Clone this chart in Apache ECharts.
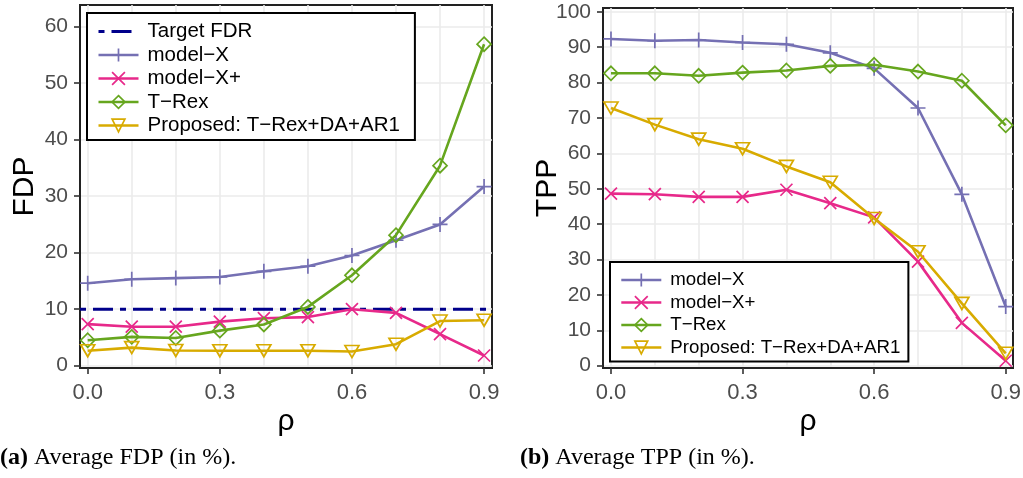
<!DOCTYPE html>
<html>
<head>
<meta charset="utf-8">
<script src="https://cdn.jsdelivr.net/npm/echarts@6/dist/echarts.min.js"></script>
<style>html,body{margin:0;padding:0;background:#fff}#c{width:1023px;height:478px}</style>
</head>
<body>
<div id="c"></div>
<script>
// ---- data ----
const rho = [0.0, 0.1, 0.2, 0.3, 0.4, 0.5, 0.6, 0.7, 0.8, 0.9];
const targetFDR = 10;

const fdpModelX     = [14.6, 15.3, 15.5, 15.7, 16.7, 17.6, 19.5, 22.2, 25.0, 31.7];
const fdpModelXPlus = [7.35, 6.9, 6.9, 7.8, 8.4, 8.6, 10.0, 9.35, 5.6, 1.8];
const fdpTRex       = [4.5, 5.1, 4.9, 6.2, 7.3, 10.4, 16.0, 23.1, 35.4, 56.9];
const fdpProposed   = [2.65, 3.2, 2.7, 2.65, 2.65, 2.65, 2.5, 3.8, 7.9, 8.05];

const tppModelX     = [92.3, 91.8, 92.0, 91.3, 90.8, 88.4, 84.0, 72.8, 48.4, 16.7];
const tppModelXPlus = [48.6, 48.45, 47.7, 47.7, 49.7, 45.9, 41.9, 29.4, 12.1, 1.4];
const tppTRex       = [82.6, 82.6, 81.9, 82.8, 83.4, 84.7, 85.0, 83.1, 80.5, 67.9];
const tppProposed   = [72.8, 68.1, 64.0, 61.3, 56.3, 51.8, 41.6, 32.2, 17.6, 3.5];

const xTickLabels = [0.0, 0.3, 0.6, 0.9];
const xGridValues = [0.0, 0.1, 0.2, 0.3, 0.4, 0.5, 0.6, 0.7, 0.8, 0.9];
const fdpTicks = [0, 10, 20, 30, 40, 50, 60];
const tppTicks = [0, 10, 20, 30, 40, 50, 60, 70, 80, 90, 100];

const names = ['model\u2212X', 'model\u2212X+', 'T\u2212Rex', 'Proposed: T\u2212Rex+DA+AR1'];
const targetName = 'Target FDR';

// ---- style ----
const colors = ['#7570B3', '#E7298A', '#66A61E', '#D8AB00'];
const symbols = [
  'path://M5,0L5,10M0,5L10,5',
  'path://M0,0L10,10M0,10L10,0',
  'path://M5,0L10,5L5,10L0,5Z',
  'path://M0,0L10,0L5,8.66Z'
];
const symSizes = [15, 12, 14, [14, 12]];
const SANS = 'Liberation Sans, Arial, Helvetica, sans-serif';
const SERIF = 'Liberation Serif, Times New Roman, serif';

const xr0 = [-0.0175, 0.918];
const xr1 = [-0.0182, 0.9166];
const yr0 = [-0.41, 63.84];
const yr1 = [-0.65, 101.05];

function pairs(xs, ys) { return xs.map((x, i) => [x, ys[i]]); }

function mkSeries(name, i, vals, gi) {
  return {
    type: 'line', name: name, xAxisIndex: gi * 2, yAxisIndex: gi,
    data: pairs(rho, vals),
    symbol: symbols[i], symbolSize: symSizes[i], showSymbol: true,
    lineStyle: { color: colors[i], width: 2.6 },
    itemStyle: { color: 'rgba(0,0,0,0)', borderColor: colors[i], borderWidth: 1.7 },
    emphasis: { disabled: true }, z: 3 + i
  };
}

const fdpSets = [fdpModelX, fdpModelXPlus, fdpTRex, fdpProposed];
const tppSets = [tppModelX, tppModelXPlus, tppTRex, tppProposed];

const series = [];
series.push({
  type: 'line', name: targetName, xAxisIndex: 0, yAxisIndex: 0,
  data: [[xr0[0], targetFDR], [xr0[1], targetFDR]],
  symbol: 'none', showSymbol: false,
  lineStyle: { color: '#00008B', width: 3, type: [6, 7, 20, 7] },
  itemStyle: { color: 'rgba(0,0,0,0)', borderColor: 'rgba(0,0,0,0)', borderWidth: 0 },
  emphasis: { disabled: true }, z: 2
});
fdpSets.forEach((v, i) => series.push(mkSeries(names[i], i, v, 0)));
tppSets.forEach((v, i) => series.push(mkSeries(names[i], i, v, 1)));

function xAxes(gi, xr) {
  return [
    {
      type: 'value', gridIndex: gi, min: xr[0], max: xr[1], position: 'bottom',
      name: '\u03C1', nameLocation: 'middle', nameGap: 39, nameMoveOverlap: false,
      nameTextStyle: { fontFamily: SANS, fontSize: 30, color: '#000' },
      axisLine: { show: true, onZero: false, lineStyle: { color: '#222', width: 2 } },
      axisTick: { show: true, length: 6, customValues: xTickLabels, lineStyle: { color: '#333', width: 1.6 } },
      axisLabel: { show: true, customValues: xTickLabels, margin: 14, color: '#4D4D4D', fontFamily: SANS, fontSize: 22,
                   formatter: v => Number(v).toFixed(1) },
      splitLine: { show: false }
    },
    {
      type: 'value', gridIndex: gi, min: xr[0], max: xr[1], position: 'bottom',
      axisLine: { show: false }, axisLabel: { show: false },
      axisTick: { show: false, customValues: xGridValues },
      splitLine: { show: true, lineStyle: { color: '#EBEBEB', width: 1.6 } }
    }
  ];
}

function yAxis(gi, yr, ticks, name, gap) {
  return {
    type: 'value', gridIndex: gi, min: yr[0], max: yr[1],
    name: name, nameLocation: 'middle', nameGap: gap, nameRotate: 90, nameMoveOverlap: false,
    nameTextStyle: { fontFamily: SANS, fontSize: 30, color: '#000' },
    axisLine: { show: true, onZero: false, lineStyle: { color: '#222', width: 2 } },
    axisTick: { show: true, length: 6, customValues: ticks, lineStyle: { color: '#333', width: 1.6 } },
    axisLabel: { show: true, customValues: ticks, margin: 12, color: '#4D4D4D', fontFamily: SANS, fontSize: 21 },
    splitLine: { show: true, lineStyle: { color: '#EBEBEB', width: 1.6 } }
  };
}

function legendItems(list) {
  return list.map(n => {
    if (n === targetName) return { name: n, lineStyle: { width: 3 } };
    return { name: n, lineStyle: { width: 2.6 }, itemStyle: { borderWidth: 1.7 } };
  });
}

const legendCommon = {
  orient: 'vertical', itemWidth: 40, itemHeight: 16,
  selectedMode: false, backgroundColor: '#fff', borderColor: '#000', borderWidth: 2
};

const option = {
  animation: false,
  backgroundColor: '#fff',
  grid: [
    { left: 80, top: 5, right: 531, bottom: 110, show: true, borderColor: '#222', borderWidth: 2, backgroundColor: 'transparent', containLabel: false, outerBoundsMode: 'none' },
    { left: 603, top: 8, right: 10, bottom: 110, show: true, borderColor: '#222', borderWidth: 2, backgroundColor: 'transparent', containLabel: false, outerBoundsMode: 'none' }
  ],
  xAxis: [].concat(xAxes(0, xr0), xAxes(1, xr1)),
  yAxis: [yAxis(0, yr0, fdpTicks, 'FDP', 40), yAxis(1, yr1, tppTicks, 'TPP', 40)],
  legend: [
    Object.assign({}, legendCommon, {
      left: 87, top: 13, padding: [8, 15, 4, 10], itemGap: 2.5,
      textStyle: { fontFamily: SANS, fontSize: 20.5, color: '#000', lineHeight: 20, padding: [0, 0, 0, 4] },
      data: legendItems([targetName].concat(names))
    }),
    Object.assign({}, legendCommon, {
      left: 610, top: 262, padding: [8, 8, 4, 10], itemGap: 2.5,
      textStyle: { fontFamily: SANS, fontSize: 18.7, color: '#000', lineHeight: 20, padding: [0, 0, 0, 4] },
      data: legendItems(names)
    })
  ],
  graphic: [
    { type: 'text', left: 0, top: 446, z: 10,
      style: { text: '{b|(a)} Average FDP (in %).', font: '24px ' + SERIF, fill: '#000',
               rich: { b: { fontWeight: 'bold', fontSize: 24, fontFamily: SERIF } } } },
    { type: 'text', left: 520, top: 446, z: 10,
      style: { text: '{b|(b)} Average TPP (in %).', font: '24px ' + SERIF, fill: '#000',
               rich: { b: { fontWeight: 'bold', fontSize: 24, fontFamily: SERIF } } } }
  ],
  series: series
};

const chart = echarts.init(document.getElementById('c'), null, { renderer: 'canvas' });
chart.setOption(option);
</script>
</body>
</html>
